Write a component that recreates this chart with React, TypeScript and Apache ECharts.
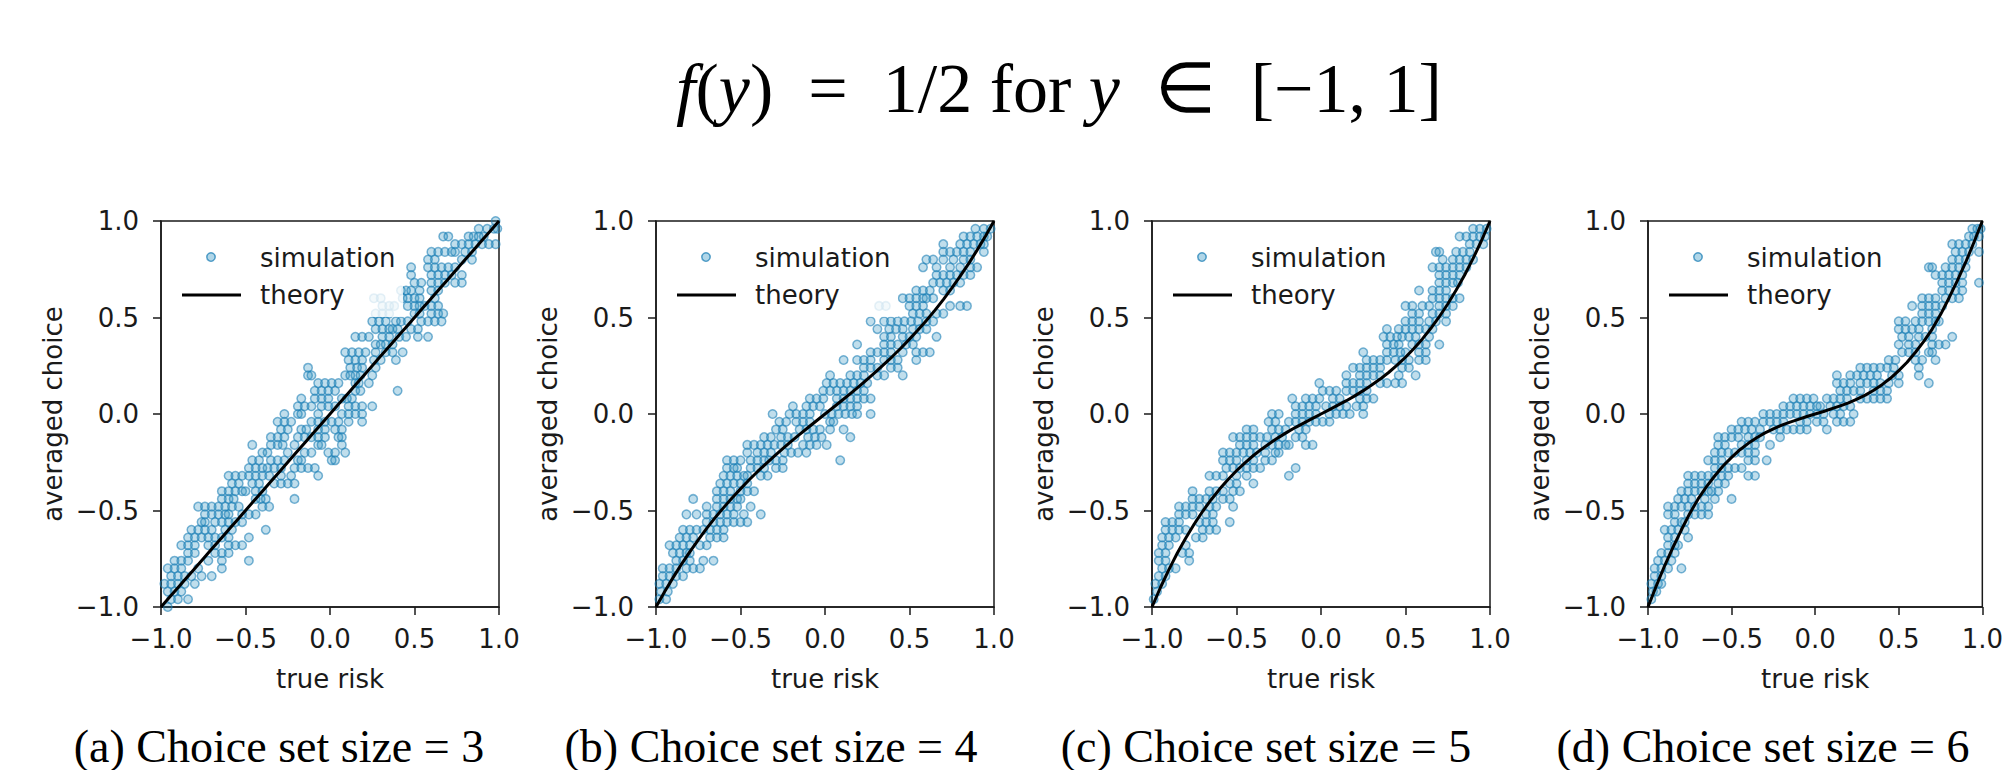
import React, { useEffect, useRef } from 'react';
import * as echarts from 'echarts';

// ---------- data ----------
const axisTicks = [-1, -0.5, 0, 0.5, 1];
const captions = ['(a) Choice set size = 3', '(b) Choice set size = 4', '(c) Choice set size = 5', '(d) Choice set size = 6'];
const xLabel = 'true risk';
const yLabel = 'averaged choice';

const theoryX = [-1, -0.95, -0.9, -0.85, -0.8, -0.75, -0.7, -0.65, -0.6, -0.55, -0.5, -0.45, -0.4, -0.35, -0.3, -0.25, -0.2, -0.15, -0.1, -0.05,
  0, 0.05, 0.1, 0.15, 0.2, 0.25, 0.3, 0.35, 0.4, 0.45, 0.5, 0.55, 0.6, 0.65, 0.7, 0.75, 0.8, 0.85, 0.9, 0.95, 1];
const theoryA = [-1, -0.95, -0.9, -0.85, -0.8, -0.75, -0.7, -0.65, -0.6, -0.55, -0.5, -0.45, -0.4, -0.35, -0.3, -0.25, -0.2, -0.15, -0.1, -0.05,
  0, 0.05, 0.1, 0.15, 0.2, 0.25, 0.3, 0.35, 0.4, 0.45, 0.5, 0.55, 0.6, 0.65, 0.7, 0.75, 0.8, 0.85, 0.9, 0.95, 1];
const theoryB = [-1, -0.922, -0.849, -0.779, -0.714, -0.652, -0.593, -0.537, -0.485, -0.435, -0.388, -0.342, -0.299, -0.258, -0.218, -0.18, -0.142, -0.106, -0.07, -0.035,
  0, 0.035, 0.07, 0.106, 0.142, 0.18, 0.218, 0.258, 0.299, 0.342, 0.388, 0.435, 0.485, 0.537, 0.593, 0.652, 0.714, 0.779, 0.849, 0.922, 1];
const theoryC = [-1, -0.899, -0.806, -0.72, -0.642, -0.57, -0.504, -0.444, -0.389, -0.339, -0.294, -0.253, -0.215, -0.181, -0.15, -0.121, -0.094, -0.069, -0.046, -0.023,
  0, 0.023, 0.046, 0.069, 0.094, 0.121, 0.15, 0.181, 0.215, 0.253, 0.294, 0.339, 0.389, 0.444, 0.504, 0.57, 0.642, 0.72, 0.806, 0.899, 1];
const theoryD = [-1, -0.89, -0.785, -0.69, -0.6, -0.515, -0.44, -0.376, -0.32, -0.268, -0.225, -0.185, -0.152, -0.123, -0.098, -0.077, -0.058, -0.042, -0.028, -0.013,
  0, 0.013, 0.028, 0.042, 0.058, 0.077, 0.098, 0.123, 0.152, 0.185, 0.225, 0.268, 0.32, 0.376, 0.44, 0.515, 0.6, 0.69, 0.785, 0.89, 1];

// simulation points: [averaged choice, [true risk values in that row]]
const simRowsA: [number, number[]][] = [
  [1.0, [0.98]],
  [0.96, [0.88, 0.93, 0.97, 0.99]],
  [0.92, [0.67, 0.7, 0.82, 0.85, 0.88, 0.91]],
  [0.88, [0.74, 0.78, 0.82, 0.86, 0.9, 0.94, 0.98]],
  [0.84, [0.6, 0.64, 0.68, 0.72, 0.74, 0.8, 0.84]],
  [0.8, [0.58, 0.62, 0.78, 0.84]],
  [0.76, [0.48, 0.58, 0.62, 0.66, 0.7, 0.74]],
  [0.72, [0.48, 0.6, 0.64, 0.68, 0.72, 0.78]],
  [0.68, [0.5, 0.54, 0.6, 0.64, 0.68, 0.74, 0.78]],
  [0.64, [0.42, 0.45, 0.48, 0.53, 0.6, 0.64]],
  [0.6, [0.26, 0.3, 0.43, 0.46, 0.5, 0.53, 0.62]],
  [0.56, [0.31, 0.35, 0.38, 0.46, 0.5, 0.53, 0.56, 0.6, 0.64]],
  [0.52, [0.27, 0.31, 0.35, 0.5, 0.53, 0.6, 0.64, 0.67]],
  [0.48, [0.25, 0.29, 0.33, 0.39, 0.42, 0.46, 0.54, 0.58, 0.62, 0.66]],
  [0.44, [0.27, 0.31, 0.35, 0.37, 0.4, 0.48, 0.52]],
  [0.4, [0.15, 0.19, 0.23, 0.31, 0.35, 0.41, 0.45, 0.52, 0.58]],
  [0.36, [0.27, 0.3, 0.33, 0.37]],
  [0.32, [0.09, 0.13, 0.17, 0.21, 0.27, 0.33, 0.37, 0.43]],
  [0.28, [0.11, 0.15, 0.19, 0.26, 0.3, 0.39]],
  [0.24, [-0.13, 0.12, 0.16, 0.19, 0.27]],
  [0.2, [-0.13, -0.11, 0.09, 0.12, 0.15, 0.18, 0.25]],
  [0.16, [-0.07, -0.03, 0.01, 0.05, 0.15, 0.17, 0.23]],
  [0.12, [-0.09, -0.05, -0.01, 0.03, 0.15, 0.18, 0.4]],
  [0.08, [-0.17, -0.09, -0.05, -0.01, 0.07, 0.1, 0.13]],
  [0.04, [-0.19, -0.15, -0.11, -0.05, -0.01, 0.03, 0.11, 0.15, 0.19, 0.25]],
  [0.0, [-0.27, -0.19, -0.17, -0.07, 0.07, 0.11, 0.15, 0.19]],
  [-0.04, [-0.31, -0.27, -0.23, -0.11, -0.07, -0.03, 0.01, 0.05, 0.11, 0.19]],
  [-0.08, [-0.29, -0.25, -0.17, -0.14, -0.07, -0.03, 0.03, 0.07]],
  [-0.12, [-0.35, -0.31, -0.27, -0.19, -0.15, -0.11, -0.07, -0.03, 0.05, 0.07]],
  [-0.16, [-0.46, -0.35, -0.31, -0.28, -0.21, -0.07, -0.05, 0.07]],
  [-0.2, [-0.4, -0.37, -0.25, -0.15, -0.11, -0.01, 0.03, 0.09]],
  [-0.24, [-0.46, -0.42, -0.35, -0.31, -0.27, -0.19, -0.17, 0.01, 0.03]],
  [-0.28, [-0.48, -0.44, -0.4, -0.37, -0.33, -0.29, -0.21, -0.17, -0.13, -0.09]],
  [-0.32, [-0.6, -0.56, -0.52, -0.48, -0.44, -0.4, -0.36, -0.29, -0.23, -0.07]],
  [-0.36, [-0.58, -0.54, -0.46, -0.42, -0.33, -0.29, -0.25, -0.21]],
  [-0.4, [-0.64, -0.6, -0.56, -0.52, -0.5, -0.44, -0.4]],
  [-0.44, [-0.64, -0.6, -0.57, -0.44, -0.41, -0.38, -0.21]],
  [-0.48, [-0.78, -0.74, -0.7, -0.66, -0.62, -0.58, -0.54, -0.4, -0.36]],
  [-0.52, [-0.74, -0.7, -0.66, -0.62, -0.6, -0.52, -0.48, -0.44]],
  [-0.56, [-0.76, -0.74, -0.68, -0.64, -0.6, -0.56, -0.52]],
  [-0.6, [-0.82, -0.78, -0.74, -0.7, -0.62, -0.58, -0.38]],
  [-0.64, [-0.84, -0.8, -0.76, -0.72, -0.68, -0.64, -0.6, -0.48]],
  [-0.68, [-0.88, -0.84, -0.8, -0.72, -0.68, -0.6, -0.56, -0.52]],
  [-0.72, [-0.84, -0.8, -0.68, -0.64, -0.6]],
  [-0.76, [-0.92, -0.88, -0.84, -0.72, -0.64, -0.48]],
  [-0.8, [-0.96, -0.92, -0.88, -0.78, -0.64]],
  [-0.84, [-0.94, -0.9, -0.86, -0.82, -0.76, -0.7]],
  [-0.88, [-0.98, -0.94, -0.9, -0.86, -0.8]],
  [-0.92, [-0.96, -0.92, -0.88]],
  [-0.96, [-0.94, -0.9, -0.84]],
  [-1.0, [-0.96]],
];

const simRowsB: [number, number[]][] = [
  [0.96, [0.89, 0.94, 0.98]],
  [0.92, [0.82, 0.86, 0.9, 0.94, 0.96]],
  [0.88, [0.7, 0.8, 0.84, 0.88, 0.92, 0.94]],
  [0.84, [0.7, 0.74, 0.78, 0.82, 0.86, 0.94]],
  [0.8, [0.6, 0.64, 0.7, 0.76, 0.82, 0.86]],
  [0.76, [0.58, 0.66, 0.74, 0.8, 0.86, 0.9]],
  [0.72, [0.66, 0.7, 0.74, 0.78, 0.82, 0.86]],
  [0.68, [0.64, 0.68, 0.72, 0.76, 0.8]],
  [0.64, [0.54, 0.58, 0.62, 0.7, 0.74]],
  [0.6, [0.46, 0.5, 0.54, 0.58, 0.6, 0.64]],
  [0.56, [0.32, 0.36, 0.5, 0.54, 0.58, 0.74, 0.8, 0.84]],
  [0.52, [0.52, 0.56, 0.6, 0.66, 0.7]],
  [0.48, [0.27, 0.35, 0.39, 0.43, 0.47, 0.51, 0.55, 0.6, 0.64]],
  [0.44, [0.31, 0.38, 0.42, 0.46, 0.52, 0.56, 0.6]],
  [0.4, [0.35, 0.39, 0.46, 0.5, 0.54, 0.66]],
  [0.36, [0.19, 0.35, 0.39, 0.43, 0.48, 0.52]],
  [0.32, [0.27, 0.31, 0.35, 0.39, 0.46, 0.54, 0.58, 0.62]],
  [0.28, [0.11, 0.19, 0.23, 0.27, 0.35, 0.39, 0.43, 0.54]],
  [0.24, [0.23, 0.27, 0.31, 0.39, 0.43]],
  [0.2, [0.03, 0.15, 0.19, 0.23, 0.31, 0.35, 0.46]],
  [0.16, [0.01, 0.05, 0.09, 0.13, 0.17, 0.21, 0.25]],
  [0.12, [-0.01, 0.03, 0.07, 0.11, 0.15, 0.19, 0.23]],
  [0.08, [-0.09, -0.05, -0.01, 0.07, 0.11, 0.15, 0.19, 0.23, 0.27]],
  [0.04, [-0.19, -0.11, -0.07, -0.03, 0.07, 0.11, 0.15, 0.19]],
  [0.0, [-0.31, -0.21, -0.17, -0.13, -0.09, 0.0, 0.04, 0.08, 0.12, 0.16, 0.19, 0.27]],
  [-0.04, [-0.27, -0.23, -0.17, -0.13, -0.09, 0.03, 0.05]],
  [-0.08, [-0.29, -0.25, -0.15, -0.11, -0.07, -0.03, 0.03, 0.11]],
  [-0.12, [-0.36, -0.32, -0.26, -0.22, -0.18, -0.1, -0.06, -0.02, 0.15]],
  [-0.16, [-0.46, -0.42, -0.38, -0.34, -0.3, -0.26, -0.22, -0.13, -0.09, -0.05, 0.01]],
  [-0.2, [-0.46, -0.4, -0.36, -0.32, -0.24, -0.2, -0.16, -0.11]],
  [-0.24, [-0.58, -0.54, -0.5, -0.44, -0.4, -0.36, -0.33, -0.29, -0.25, 0.09]],
  [-0.28, [-0.58, -0.54, -0.52, -0.44, -0.4, -0.36, -0.29, -0.25]],
  [-0.32, [-0.6, -0.56, -0.52, -0.48, -0.46, -0.38, -0.34]],
  [-0.36, [-0.62, -0.58, -0.54, -0.5, -0.46]],
  [-0.4, [-0.64, -0.6, -0.56, -0.5, -0.46, -0.42]],
  [-0.44, [-0.78, -0.64, -0.6, -0.56, -0.52, -0.5]],
  [-0.48, [-0.7, -0.64, -0.6, -0.56, -0.52, -0.44]],
  [-0.52, [-0.82, -0.76, -0.7, -0.66, -0.62, -0.58, -0.54, -0.48, -0.38]],
  [-0.56, [-0.7, -0.66, -0.62, -0.58, -0.54, -0.5, -0.46]],
  [-0.6, [-0.84, -0.8, -0.76, -0.72, -0.68, -0.64, -0.6]],
  [-0.64, [-0.86, -0.82, -0.78, -0.68, -0.64, -0.6]],
  [-0.68, [-0.92, -0.88, -0.84, -0.8, -0.74, -0.7]],
  [-0.72, [-0.9, -0.86, -0.82, -0.8]],
  [-0.76, [-0.88, -0.84, -0.8, -0.72, -0.66]],
  [-0.8, [-0.96, -0.92, -0.88, -0.82, -0.78, -0.74]],
  [-0.84, [-0.96, -0.92, -0.88, -0.84]],
  [-0.88, [-0.98, -0.94, -0.9]],
  [-0.92, [-0.97, -0.93]],
  [-0.96, [-0.98, -0.94]],
];

const simRowsC: [number, number[]][] = [
  [0.96, [0.9, 0.94, 0.98]],
  [0.92, [0.82, 0.86, 0.9, 0.94, 0.97]],
  [0.88, [0.88, 0.92, 0.96]],
  [0.84, [0.68, 0.7, 0.8, 0.84, 0.88]],
  [0.8, [0.72, 0.78, 0.82, 0.86, 0.9]],
  [0.76, [0.66, 0.7, 0.74, 0.78, 0.82, 0.86]],
  [0.72, [0.7, 0.74, 0.78, 0.82]],
  [0.68, [0.7, 0.74, 0.78, 0.81]],
  [0.64, [0.58, 0.66, 0.7, 0.74]],
  [0.6, [0.66, 0.7, 0.74, 0.78, 0.82]],
  [0.56, [0.5, 0.54, 0.6, 0.64, 0.7, 0.74, 0.78]],
  [0.52, [0.54, 0.58, 0.66, 0.7, 0.74]],
  [0.48, [0.5, 0.54, 0.58, 0.64, 0.68, 0.74]],
  [0.44, [0.39, 0.46, 0.5, 0.54, 0.58, 0.62, 0.66]],
  [0.4, [0.37, 0.41, 0.45, 0.48, 0.52, 0.56, 0.64]],
  [0.36, [0.39, 0.43, 0.46, 0.54, 0.58, 0.62, 0.7]],
  [0.32, [0.25, 0.39, 0.43, 0.47, 0.5, 0.58, 0.62]],
  [0.28, [0.27, 0.31, 0.35, 0.39, 0.44, 0.48, 0.52, 0.58, 0.62]],
  [0.24, [0.19, 0.23, 0.27, 0.31, 0.35, 0.48, 0.52]],
  [0.2, [0.15, 0.23, 0.27, 0.31, 0.35, 0.46, 0.56]],
  [0.16, [-0.01, 0.15, 0.19, 0.23, 0.27, 0.35, 0.39, 0.44, 0.48]],
  [0.12, [0.01, 0.05, 0.09, 0.15, 0.19, 0.23, 0.27]],
  [0.08, [-0.17, -0.09, -0.05, -0.01, 0.07, 0.11, 0.23, 0.27, 0.31]],
  [0.04, [-0.15, -0.11, -0.07, -0.03, 0.03, 0.07, 0.11, 0.15, 0.21, 0.25]],
  [0.0, [-0.29, -0.25, -0.15, -0.11, -0.07, -0.03, 0.05, 0.09, 0.13, 0.17, 0.25]],
  [-0.04, [-0.31, -0.27, -0.19, -0.15, -0.11, -0.07, -0.03, 0.01, 0.05]],
  [-0.08, [-0.44, -0.4, -0.29, -0.25, -0.21, -0.13, -0.09]],
  [-0.12, [-0.52, -0.48, -0.44, -0.4, -0.36, -0.32, -0.27, -0.23, -0.15, -0.11]],
  [-0.16, [-0.48, -0.44, -0.4, -0.33, -0.29, -0.25, -0.21, -0.19, -0.09, -0.05]],
  [-0.2, [-0.58, -0.54, -0.5, -0.46, -0.42, -0.38, -0.33, -0.27, -0.25]],
  [-0.24, [-0.58, -0.54, -0.5, -0.44, -0.4, -0.33, -0.29]],
  [-0.28, [-0.56, -0.52, -0.48, -0.44, -0.4, -0.36, -0.15]],
  [-0.32, [-0.66, -0.62, -0.58, -0.5, -0.44, -0.19]],
  [-0.36, [-0.54, -0.5, -0.4]],
  [-0.4, [-0.76, -0.66, -0.62, -0.58, -0.52, -0.48]],
  [-0.44, [-0.76, -0.72, -0.68, -0.64, -0.58, -0.54]],
  [-0.48, [-0.84, -0.8, -0.76, -0.72, -0.66, -0.62, -0.52]],
  [-0.52, [-0.84, -0.8, -0.76, -0.68, -0.64]],
  [-0.56, [-0.92, -0.88, -0.84, -0.72, -0.68, -0.64, -0.54]],
  [-0.6, [-0.92, -0.88, -0.84, -0.8, -0.7, -0.66, -0.62]],
  [-0.64, [-0.94, -0.9, -0.86, -0.74, -0.7]],
  [-0.68, [-0.94, -0.9, -0.8]],
  [-0.72, [-0.96, -0.92, -0.82, -0.78]],
  [-0.76, [-0.96, -0.92, -0.78]],
  [-0.8, [-0.94, -0.9, -0.86]],
  [-0.84, [-0.96, -0.92]],
  [-0.88, [-0.98, -0.94]],
  [-0.92, [-0.97]],
  [-0.96, [-0.99]],
];

const simRowsD: [number, number[]][] = [
  [0.96, [0.94, 0.97, 0.99]],
  [0.92, [0.92, 0.95, 0.98]],
  [0.88, [0.82, 0.86, 0.9, 0.94]],
  [0.84, [0.84, 0.88, 0.92, 0.98]],
  [0.8, [0.82, 0.86, 0.9]],
  [0.76, [0.68, 0.7, 0.78, 0.82, 0.86, 0.9]],
  [0.72, [0.72, 0.76, 0.8, 0.84, 0.88]],
  [0.68, [0.76, 0.8, 0.84, 0.88, 0.98]],
  [0.64, [0.76, 0.8, 0.84, 0.88]],
  [0.6, [0.64, 0.68, 0.72, 0.78, 0.82, 0.86]],
  [0.56, [0.58, 0.64, 0.68, 0.72, 0.76]],
  [0.52, [0.64, 0.68, 0.72]],
  [0.48, [0.5, 0.54, 0.6, 0.64, 0.68, 0.72, 0.74]],
  [0.44, [0.5, 0.54, 0.58, 0.62, 0.7]],
  [0.4, [0.52, 0.56, 0.62, 0.66, 0.7, 0.82]],
  [0.36, [0.5, 0.56, 0.6, 0.7, 0.74, 0.78]],
  [0.32, [0.52, 0.56, 0.6, 0.68, 0.7]],
  [0.28, [0.44, 0.48, 0.6, 0.64, 0.72]],
  [0.24, [0.27, 0.31, 0.35, 0.39, 0.43, 0.47, 0.62]],
  [0.2, [0.13, 0.21, 0.25, 0.29, 0.33, 0.37, 0.46, 0.5, 0.62]],
  [0.16, [0.13, 0.17, 0.21, 0.27, 0.31, 0.35, 0.39, 0.44, 0.5, 0.68]],
  [0.12, [0.15, 0.19, 0.23, 0.27, 0.35, 0.39, 0.43]],
  [0.08, [-0.13, -0.09, -0.05, -0.01, 0.07, 0.11, 0.15, 0.19, 0.27, 0.31, 0.35, 0.39, 0.43]],
  [0.04, [-0.19, -0.15, -0.11, -0.07, -0.03, 0.01, 0.03, 0.09, 0.13, 0.17, 0.21]],
  [0.0, [-0.31, -0.27, -0.23, -0.19, -0.15, -0.11, -0.07, -0.03, 0.01, 0.05, 0.11, 0.15, 0.23]],
  [-0.04, [-0.44, -0.4, -0.36, -0.31, -0.27, -0.23, -0.19, -0.09, -0.05, 0.01, 0.05, 0.13, 0.17, 0.21]],
  [-0.08, [-0.5, -0.46, -0.42, -0.38, -0.33, -0.25, -0.21, -0.17, -0.13, -0.09, -0.05, 0.07]],
  [-0.12, [-0.58, -0.54, -0.5, -0.46, -0.4, -0.36, -0.33, -0.21]],
  [-0.16, [-0.58, -0.54, -0.44, -0.4, -0.36, -0.27]],
  [-0.2, [-0.6, -0.56, -0.52, -0.48, -0.44, -0.4, -0.36]],
  [-0.24, [-0.64, -0.6, -0.56, -0.4, -0.36, -0.29]],
  [-0.28, [-0.6, -0.56, -0.52, -0.48, -0.44]],
  [-0.32, [-0.76, -0.72, -0.68, -0.64, -0.6, -0.56, -0.52, -0.4, -0.36]],
  [-0.36, [-0.76, -0.72, -0.68, -0.64, -0.58, -0.54]],
  [-0.4, [-0.8, -0.76, -0.72, -0.68, -0.64, -0.62, -0.58]],
  [-0.44, [-0.82, -0.78, -0.74, -0.66, -0.6, -0.5]],
  [-0.48, [-0.88, -0.84, -0.8, -0.76, -0.72, -0.68, -0.64]],
  [-0.52, [-0.88, -0.84, -0.76, -0.72, -0.68, -0.64]],
  [-0.56, [-0.84, -0.8, -0.78]],
  [-0.6, [-0.9, -0.86, -0.82, -0.78]],
  [-0.64, [-0.88, -0.84, -0.76]],
  [-0.68, [-0.88, -0.84, -0.82]],
  [-0.72, [-0.92, -0.88, -0.84]],
  [-0.76, [-0.94, -0.9, -0.86]],
  [-0.8, [-0.96, -0.92, -0.88, -0.8]],
  [-0.84, [-0.96, -0.92]],
  [-0.88, [-0.98, -0.94, -0.92]],
  [-0.92, [-0.97, -0.95]],
  [-0.96, [-0.98]],
];

const simRows = [simRowsA, simRowsB, simRowsC, simRowsD];
const theories = [theoryA, theoryB, theoryC, theoryD];

// ---------- layout / style ----------
const SANS = 'DejaVu Sans';
const SERIF = 'Liberation Serif';
const INK = '#1a1a1a';
const PT_FILL = 'rgba(35,140,190,0.36)';
const PT_EDGE = 'rgba(25,125,180,0.72)';
const LEFTS = [161, 656, 1152, 1648];
const TOP = 221;
const PW = 338;
const PH = 386;
const CAP_X = [279, 771, 1266, 1763];

const fmt = (v: number) => (v < 0 ? '\u2212' : '') + Math.abs(v).toFixed(1);

export default function App() {
  const ref = useRef<HTMLDivElement>(null);
  useEffect(() => {
    if (!ref.current) return;
    const chart = echarts.init(ref.current, undefined, { renderer: 'svg' });

    const grid = LEFTS.map((l) => ({
      left: l, top: TOP, width: PW, height: PH,
      show: true, borderColor: INK, borderWidth: 1.5, backgroundColor: 'transparent',
    }));

    const axisCommon = {
      type: 'value' as const,
      min: axisTicks[0],
      max: axisTicks[axisTicks.length - 1],
      interval: 0.5,
      nameLocation: 'middle' as const,
      nameTextStyle: { fontSize: 26, color: INK, fontFamily: SANS },
      axisLine: { show: true, onZero: false, lineStyle: { color: INK, width: 1.5 } },
      axisTick: { show: true, inside: false, length: 8, lineStyle: { color: INK, width: 1.5 } },
      splitLine: { show: false },
    };

    const xAxis = LEFTS.map((_, i) => ({
      ...axisCommon,
      gridIndex: i,
      name: xLabel,
      nameGap: 59,
      axisLabel: { fontSize: 26, color: INK, fontFamily: SANS, margin: 19, formatter: fmt },
    }));
    const yAxis = LEFTS.map((_, i) => ({
      ...axisCommon,
      gridIndex: i,
      name: yLabel,
      nameGap: 95,
      axisLabel: { fontSize: 26, color: INK, fontFamily: SANS, margin: 22, formatter: fmt },
    }));

    const series: any[] = [];
    simRows.forEach((rows, i) => {
      const pts: number[][] = [];
      rows.forEach(([y, xs]) => xs.forEach((x) => pts.push([x, y])));
      series.push({
        type: 'scatter', name: 'simulation', xAxisIndex: i, yAxisIndex: i,
        data: pts, symbol: 'circle', symbolSize: 8.5, clip: true, z: 2,
        itemStyle: { color: PT_FILL, borderColor: PT_EDGE, borderWidth: 1.5 },
      });
    });
    theories.forEach((ys, i) => {
      series.push({
        type: 'line', name: 'theory', xAxisIndex: i, yAxisIndex: i,
        data: theoryX.map((x, j) => [x, ys[j]]), showSymbol: false, symbol: 'none',
        smooth: false, z: 3,
        lineStyle: { color: '#000', width: 3, join: 'round' },
      });
    });

    const graphic: any[] = [
      {
        type: 'text', x: 1059, y: 88, z: 100,
        style: {
          text: '{i|f}({i|y})  =  1/2 for {i|y}  \u2208  [\u22121, 1]',
          fontFamily: SERIF, fontSize: 70, fill: '#000',
          align: 'center', verticalAlign: 'middle',
          rich: { i: { fontFamily: SERIF, fontSize: 70, fontStyle: 'italic', fill: '#000' } },
        },
      },
    ];
    captions.forEach((c, i) => {
      graphic.push({
        type: 'text', x: CAP_X[i], y: 746, z: 100,
        style: { text: c, fontFamily: SERIF, fontSize: 46, fill: '#000', align: 'center', verticalAlign: 'middle' },
      });
    });
    LEFTS.forEach((l) => {
      graphic.push({
        type: 'rect', z: 90, shape: { x: l + 10, y: TOP + 10, width: 232, height: 86 },
        style: { fill: 'rgba(255,255,255,0.8)', stroke: 'none' },
      });
      graphic.push({
        type: 'circle', z: 95, shape: { cx: l + 50, cy: TOP + 36, r: 4.2 },
        style: { fill: PT_FILL, stroke: PT_EDGE, lineWidth: 1.5 },
      });
      graphic.push({
        type: 'line', z: 95, shape: { x1: l + 21, y1: TOP + 74, x2: l + 80, y2: TOP + 74 },
        style: { stroke: '#000', lineWidth: 3 },
      });
      graphic.push({
        type: 'text', z: 95, x: l + 99, y: TOP + 37,
        style: { text: 'simulation', fontFamily: SANS, fontSize: 26, fill: INK, align: 'left', verticalAlign: 'middle' },
      });
      graphic.push({
        type: 'text', z: 95, x: l + 99, y: TOP + 74,
        style: { text: 'theory', fontFamily: SANS, fontSize: 26, fill: INK, align: 'left', verticalAlign: 'middle' },
      });
    });

    chart.setOption({
      animation: false,
      backgroundColor: '#fff',
      grid, xAxis, yAxis, series, graphic,
    });
    return () => chart.dispose();
  }, []);

  return (
    <div
      ref={ref}
      style={{ position: 'absolute', left: 0, top: 0, width: 2006, height: 770, background: '#fff' }}
    />
  );
}
